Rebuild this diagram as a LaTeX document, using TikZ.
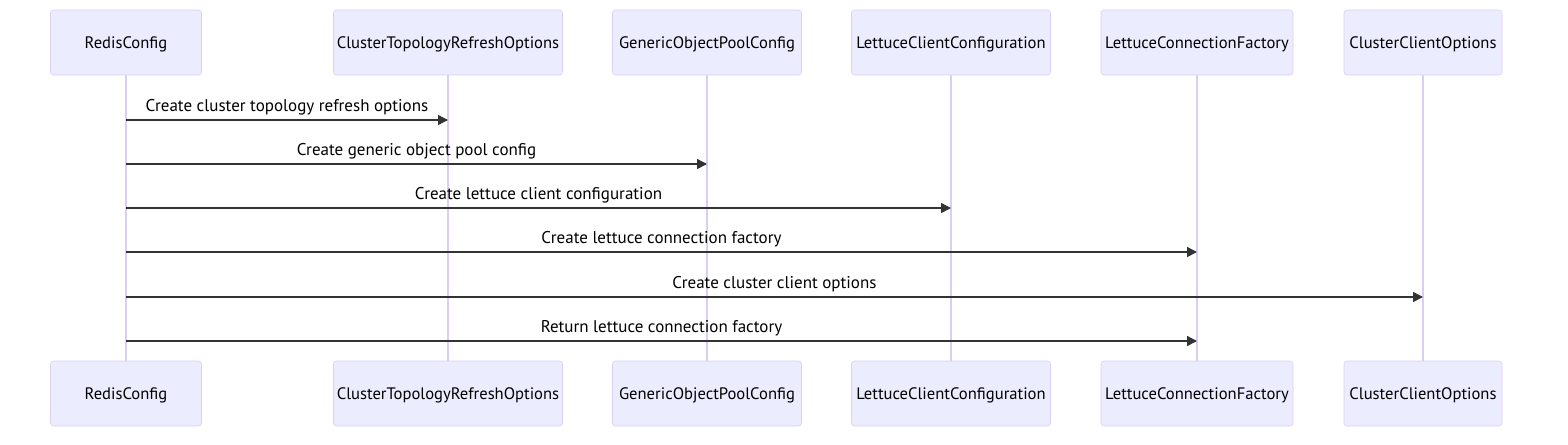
\documentclass[tikz,border=0pt]{standalone}
\usepackage{fontspec}
\setmainfont{PT Sans}
\usepackage{tikz}
\usetikzlibrary{arrows.meta,positioning,calc}
\definecolor{actorfill}{HTML}{ECECFF}
\definecolor{actorline}{HTML}{DACEF3}
\definecolor{msgline}{HTML}{333333}
\tikzstyle{actor}    = [draw=actorline, fill=actorfill, rounded corners=2.25pt, minimum height=48.75pt, inner sep=0pt, text depth=0pt, font=\fontsize{12.45}{14}\selectfont]
\tikzstyle{lifeline} = [draw=actorline, line width=1.1pt]
\tikzstyle{msg}      = [draw=msgline, line width=1.1pt, -{Triangle[length=7.5pt,width=7.5pt]}]
\tikzstyle{msglabel} = [inner sep=0pt, yshift=9.75pt, font=\fontsize{12.75}{15}\selectfont, text=black]

\begin{document}
\begin{tikzpicture}[x=0.75pt, y=-0.75pt]
        \useasboundingbox (0,0) rectangle (1568,444);
        % actors, top and bottom, with their lifelines
        \foreach \n/\x/\w/\t in {RC/126/151/RedisConfig,
                                 CT/448/229/ClusterTopologyRefreshOptions,
                                 GO/707/189/GenericObjectPoolConfig,
                                 LC/951/199/LettuceClientConfiguration,
                                 LF/1197/192/LettuceConnectionFactory,
                                 CC/1423/158/ClusterClientOptions}
        {
            \node[actor, minimum width=\w*0.75pt] (\n top) at (\x,42.5) {\t};
            \node[actor, minimum width=\w*0.75pt] (\n bot) at (\x,393.5) {\t};
            \draw[lifeline] (\n top.south) -- (\n bot.north);
        }
        % messages
        \foreach \to/\y/\t in {CT/120/Create cluster topology refresh options,
                               GO/164/Create generic object pool config,
                               LC/208/Create lettuce client configuration,
                               LF/252/Create lettuce connection factory,
                               CC/297/Create cluster client options,
                               LF/341/Return lettuce connection factory}
        {
            \coordinate (lvl) at (0,\y);
            \coordinate (from) at (RCtop |- lvl);
            \coordinate (dest) at (\to top |- lvl);
            \draw[msg] (from) -- node[msglabel] {\t} (dest);
        }
    \end{tikzpicture}
\end{document}
